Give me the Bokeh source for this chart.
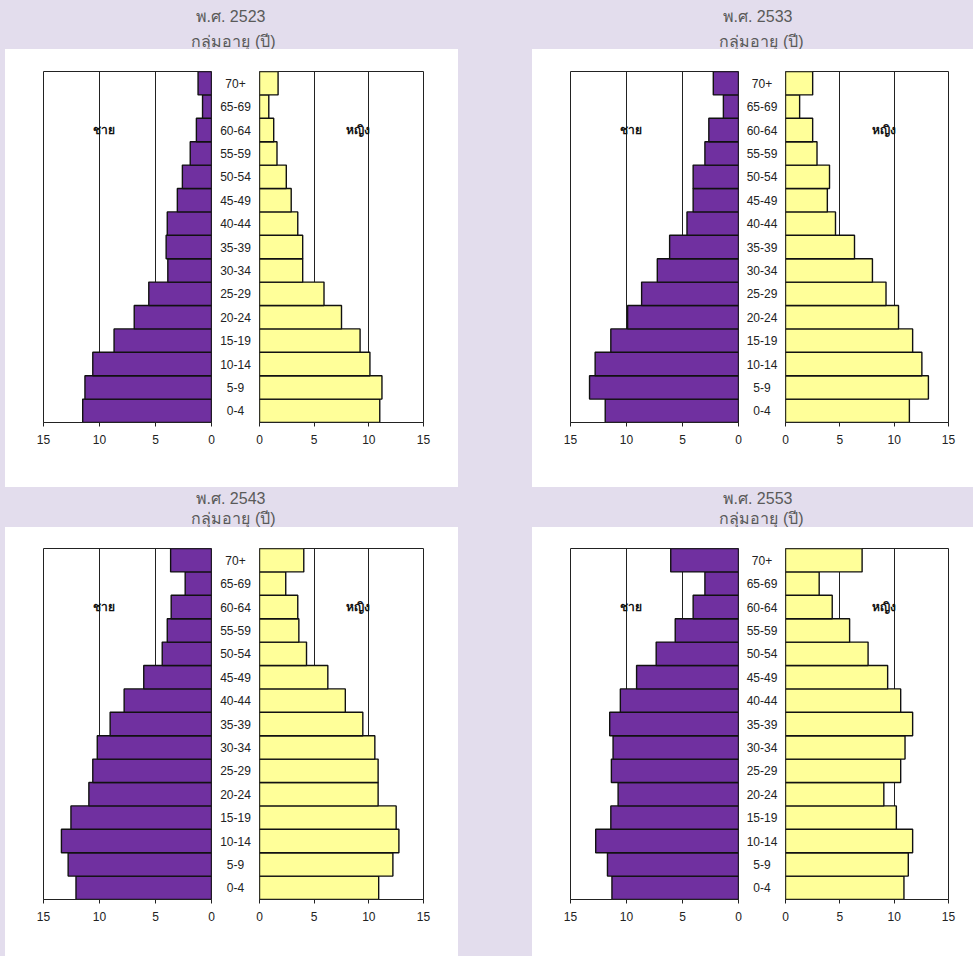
from bokeh.plotting import figure
from bokeh.layouts import row, column
from bokeh.models import Range1d, FactorRange, FixedTicker, Label, Spacer, ColumnDataSource
from bokeh.core.properties import value
from bokeh.embed import file_html
from bokeh.resources import INLINE

# ---------------- data ----------------
ages = ["0-4", "5-9", "10-14", "15-19", "20-24", "25-29", "30-34", "35-39",
        "40-44", "45-49", "50-54", "55-59", "60-64", "65-69", "70+"]

years = ["พ.ศ. 2523", "พ.ศ. 2533", "พ.ศ. 2543", "พ.ศ. 2553"]
subtitle = "กลุ่มอายุ (ปี)"
male_label = "ชาย"
female_label = "หญิง"
ticks = [0, 5, 10, 15]

male_2523 = [11.5, 11.3, 10.6, 8.7, 6.9, 5.6, 3.9, 4.05, 3.95, 3.05, 2.6, 1.9, 1.35, 0.8, 1.2]
female_2523 = [11.0, 11.2, 10.1, 9.2, 7.5, 5.9, 3.95, 3.95, 3.5, 2.9, 2.45, 1.6, 1.3, 0.85, 1.7]

male_2533 = [11.9, 13.3, 12.8, 11.4, 9.9, 8.65, 7.25, 6.15, 4.6, 4.05, 4.05, 3.0, 2.65, 1.35, 2.25]
female_2533 = [11.4, 13.15, 12.55, 11.7, 10.4, 9.25, 8.0, 6.35, 4.6, 3.85, 4.05, 2.9, 2.5, 1.3, 2.5]

male_2543 = [12.1, 12.8, 13.4, 12.55, 10.95, 10.6, 10.2, 9.05, 7.8, 6.05, 4.4, 3.95, 3.6, 2.35, 3.65]
female_2543 = [10.9, 12.2, 12.75, 12.5, 10.85, 10.85, 10.55, 9.45, 7.85, 6.25, 4.3, 3.6, 3.5, 2.4, 4.05]

male_2553 = [11.3, 11.7, 12.75, 11.4, 10.75, 11.35, 11.2, 11.5, 10.55, 9.1, 7.35, 5.65, 4.05, 3.0, 6.05]
female_2553 = [10.9, 11.3, 11.7, 10.2, 9.05, 10.6, 11.0, 11.7, 10.6, 9.4, 7.6, 5.9, 4.3, 3.1, 7.05]

# ---------------- styles ----------------
LAV = "#e3dded"
PURPLE = "#7030a0"
YELLOW = "#ffff99"
FONT = "Liberation Sans"
DARK = "#222222"


def half(values, side, width, bl, br, height, bt, bb, lab_text, lab_x):
    xr = Range1d(15, 0) if side == "male" else Range1d(0, 15)
    p = figure(width=width, height=height, x_range=xr,
               y_range=FactorRange(factors=ages, range_padding=0),
               output_backend="svg", toolbar_location=None,
               y_axis_location=None,
               min_border_left=bl, min_border_right=br,
               min_border_top=bt, min_border_bottom=bb)
    p.background_fill_color = "white"
    p.border_fill_color = "white"
    p.outline_line_color = DARK
    p.outline_line_width = 1
    src = ColumnDataSource(dict(age=ages, v=values))
    p.hbar(y="age", left=0, right="v", height=1.0, source=src,
           fill_color=PURPLE if side == "male" else YELLOW,
           line_color="#111111", line_width=1.4)
    p.ygrid.visible = False
    p.xgrid.ticker = FixedTicker(ticks=[5, 10])
    p.xgrid.grid_line_color = DARK
    p.xgrid.grid_line_alpha = 1.0
    p.xgrid.grid_line_width = 1
    ax = p.xaxis[0]
    ax.ticker = FixedTicker(ticks=ticks)
    ax.axis_line_color = DARK
    ax.axis_line_width = 1
    ax.major_tick_line_color = DARK
    ax.major_tick_out = 4
    ax.major_tick_in = 0
    ax.minor_tick_out = 0
    ax.minor_tick_in = 0
    ax.major_label_standoff = 8
    ax.major_label_text_font = FONT
    ax.major_label_text_font_size = "12px"
    ax.major_label_text_color = "#222222"
    p.text(x=[lab_x], y=["60-64"], text=[lab_text], text_align="center",
           text_baseline="middle", text_font=value(FONT), text_font_style="bold",
           text_font_size="12px", text_color="#111111")
    return p


def mid(width, height, bt, bb):
    p = figure(width=width, height=height, x_range=Range1d(0, 1),
               y_range=FactorRange(factors=ages, range_padding=0),
               output_backend="svg", toolbar_location=None,
               x_axis_location=None, y_axis_location=None,
               min_border_left=0, min_border_right=0,
               min_border_top=bt, min_border_bottom=bb)
    p.background_fill_color = "white"
    p.border_fill_color = "white"
    p.outline_line_color = None
    p.grid.visible = False
    src = ColumnDataSource(dict(age=ages))
    p.text(x=0.5, y="age", text="age", source=src, text_align="center",
           text_baseline="middle", text_font=value(FONT), text_font_size="12px",
           text_color=DARK)
    return p


def title_band(width, height, items):
    p = figure(width=width, height=height, x_range=Range1d(0, width),
               y_range=Range1d(0, height), output_backend="svg",
               toolbar_location=None, x_axis_location=None, y_axis_location=None,
               min_border=0)
    p.background_fill_color = LAV
    p.border_fill_color = LAV
    p.outline_line_color = None
    p.grid.visible = False
    for (x, y, t) in items:
        p.add_layout(Label(x=x, y=y, text=t, text_align="center",
                           text_baseline="middle", text_font=FONT,
                           text_font_size="16px", text_color="#5a5a5a"))
    return p


W = 973
TOP_H, BOT_H = 438, 429

top_titles = title_band(W, 49, [(230, 33, years[0]), (233, 8, subtitle),
                                (757, 33, years[1]), (761, 8, subtitle)])
bot_titles = title_band(W, 40, [(230, 29, years[2]), (233, 9, subtitle),
                                (757, 29, years[3]), (761, 9, subtitle)])


def panel_row(mL, fL, mR, fR, height, bt, bb):
    white = {"background-color": "white"}
    lav = {"background-color": LAV}
    left = row(
        half(mL, "male", 212, 38, 6, height, bt, bb, male_label, 9.6),
        mid(36, height, bt, bb),
        half(fL, "female", 205, 6, 35, height, bt, bb, female_label, 9.0),
        styles=white)
    right = row(
        half(mR, "male", 212, 38, 6, height, bt, bb, male_label, 9.6),
        mid(35, height, bt, bb),
        half(fR, "female", 194, 6, 25, height, bt, bb, female_label, 9.1),
        styles=white)
    return row(Spacer(width=5, height=height, styles=lav), left,
               Spacer(width=74, height=height, styles=lav), right, styles=lav)


top_panels = panel_row(male_2523, female_2523, male_2533, female_2533, TOP_H, 22, 65)
bot_panels = panel_row(male_2543, female_2543, male_2553, female_2553, BOT_H, 21, 57)

layout = column(top_titles, top_panels, bot_titles, bot_panels,
                styles={"background-color": LAV})

open("out.html", "w").write(file_html(layout, INLINE))
